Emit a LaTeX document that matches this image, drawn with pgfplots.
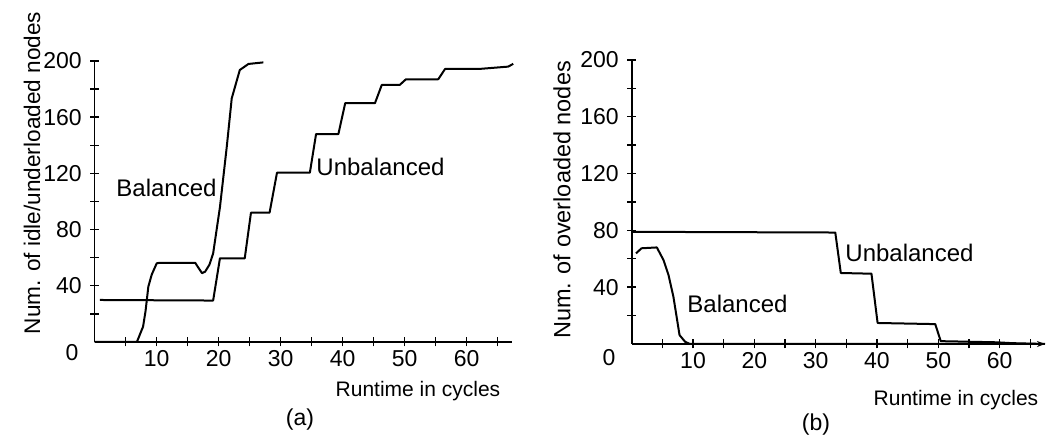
\documentclass[border=0pt]{standalone}
\usepackage{fontspec}
\setmainfont{Liberation Sans}
\usepackage{pgfplots}
\pgfplotsset{compat=1.18}
\usetikzlibrary{arrows.meta}

\pgfplotstableread{
x y
0 0
6.8 0
7.8 10.9
8.2 22
8.65 39.4
9.2 48
10 56
10.5 56.4
16.2 56.4
17.3 49
17.8 50
18.5 55
19.1 63
20.2 96
21.3 139
22.1 173.4
23.4 193.6
24.8 197.9
27.2 199
}\balA

\pgfplotstableread{
x y
0.85 29.9
19.1 29.5
20.2 59.6
24.2 59.6
25.2 92
28.2 92
29.4 120.5
34.7 120.5
35.7 148
39.3 148
40.4 170
45.2 170
46.3 183
49.2 183
50.2 187
55.4 187
56.5 194.3
61.9 194.3
66.7 196
67.5 198
}\unbA

\pgfplotstableread{
x y
0.7 63.8
1.6 67.4
4.1 68
5.2 59
6 48.6
6.8 33.3
7.8 6.3
8.7 1.6
9.5 0
67 0
}\balB

\pgfplotstableread{
x y
0 79
33.2 78.5
34.1 50
39.1 49.5
40.1 14.8
49.5 14
50.4 2
59.5 1.2
62 0.6
67.4 0
}\unbB

\pgfplotsset{
  myaxis/.style={
    scale only axis,
    axis lines=left,
    axis line style={-, line width=1.6pt},
    clip=false,
    ymin=0, ymax=200,
    xmin=0,
    ytick={20,40,...,200},
    yticklabels={,40,,80,,120,,160,,200},
    xtick={5,10,...,65},
    xticklabels={,10,,20,,30,,40,,50,,60,},
    tick align=center,
    major tick length=9pt,
    tick style={line width=1.4pt, black},
    /pgf/number format/assume math mode=true,
    tick label style={font=\fontsize{23}{27}\selectfont},
    yticklabel style={xshift=-5pt},
  },
  curve/.style={black, line width=2pt, line join=round, no markers},
}

\begin{document}
\begin{tikzpicture}[x=1pt,y=1pt]
\path[use as bounding box] (0,0) rectangle (1053,438);

% Panel (a)
\begin{axis}[myaxis, at={(94.7pt,96pt)}, anchor=origin,
  width=417.3pt, height=281pt, xmax=67.3]
  \addplot[curve] table[x=x,y=y] {\balA};
  \addplot[curve] table[x=x,y=y] {\unbA};
\end{axis}

% Panel (b)
\begin{axis}[myaxis, at={(631.7pt,94pt)}, anchor=origin,
  width=413.3pt, height=284pt, xmax=67.4,
  x axis line style={-{Stealth[length=8pt,width=6pt]}}]
  \addplot[curve] table[x=x,y=y] {\balB};
  \addplot[curve] table[x=x,y=y] {\unbB};
\end{axis}

\begin{scope}[every node/.style={inner sep=0pt}]
\node[font=\fontsize{24}{28}\selectfont] at (166.5,250) {Balanced};
\node[font=\fontsize{24}{28}\selectfont] at (380.5,271.3) {Unbalanced};
\node[font=\fontsize{24}{28}\selectfont] at (909.5,185.3) {Unbalanced};
\node[font=\fontsize{24}{28}\selectfont] at (737.5,134) {Balanced};

\node[font=\fontsize{21}{24}\selectfont, anchor=base] at (418,41) {Runtime in cycles};
\node[font=\fontsize{21}{24}\selectfont, anchor=base] at (956,32.3) {Runtime in cycles};
\node[font=\fontsize{23}{27}\selectfont] at (300,18) {(a)};
\node[font=\fontsize{23}{27}\selectfont] at (816,13) {(b)};

\node[font=\fontsize{22.6}{27}\selectfont, rotate=90] at (32,265) {Num. of idle/underloaded nodes};
\node[font=\fontsize{23.5}{27}\selectfont, rotate=90] at (562,238) {Num. of overloaded nodes};

\node[font=\fontsize{23}{27}\selectfont] at (72,85) {0};
\node[font=\fontsize{23}{27}\selectfont] at (609,80) {0};
\end{scope}
\end{tikzpicture}
\end{document}
